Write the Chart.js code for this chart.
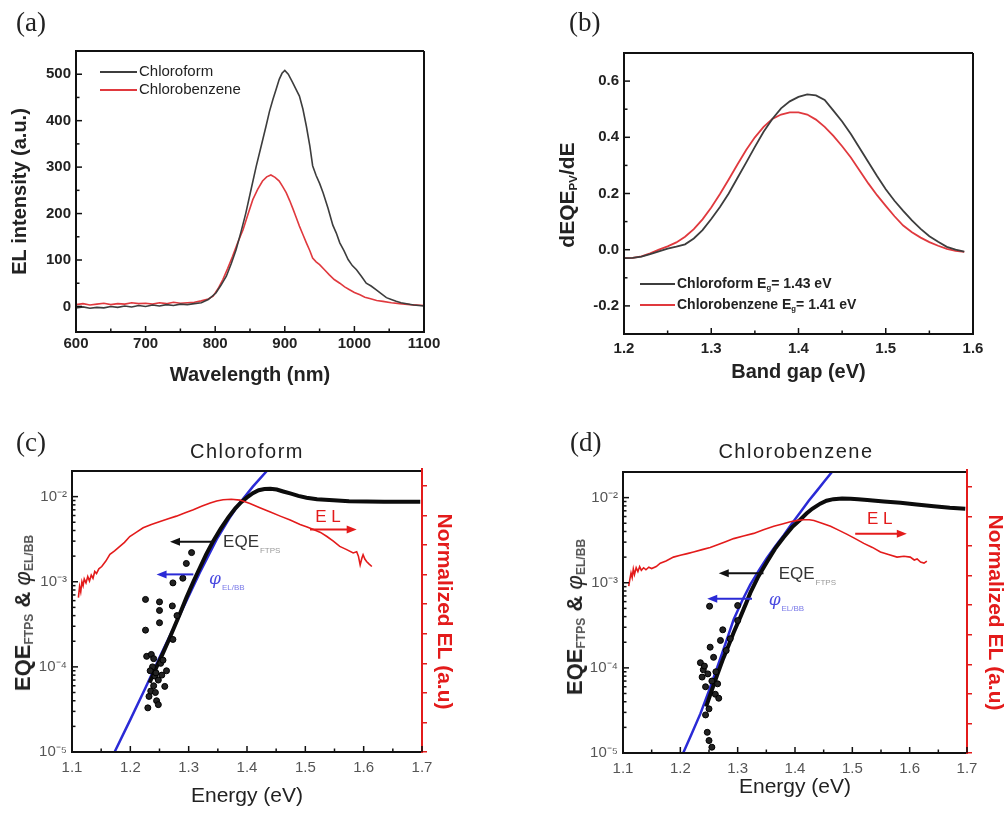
<!DOCTYPE html>
<html>
<head>
<meta charset="utf-8">
<script src="https://cdn.jsdelivr.net/npm/chart.js@4.4.1/dist/chart.umd.min.js"></script>
<style>
body{margin:0;width:1007px;height:815px;position:relative;overflow:hidden;background:#fff;font-family:"Liberation Sans",Arial,sans-serif;color:#222;}
.pane{position:absolute;}
.tag{position:absolute;font-family:"Liberation Serif","DejaVu Serif",serif;font-size:27px;line-height:1;color:#222;}
.head{position:absolute;font-size:20px;letter-spacing:1.5px;text-align:center;color:#222;}
.leg{position:absolute;white-space:nowrap;}
.leg div{height:18px;line-height:18px;}
.leg span{display:inline-block;vertical-align:middle;height:2px;margin-right:2px;}
.rot{position:absolute;transform:translate(-50%,-50%) rotate(-90deg);white-space:nowrap;}
sub{font-size:55%;vertical-align:-0.25em;}
</style>
</head>
<body>
<div class="pane" style="left:0;top:0"><canvas id="ca" width="450" height="400"></canvas></div>
<div class="pane" style="left:500px;top:0"><canvas id="cb" width="507" height="400"></canvas></div>
<div class="pane" style="left:0;top:420px"><canvas id="cc" width="500" height="395"></canvas></div>
<div class="pane" style="left:500px;top:420px"><canvas id="cd" width="507" height="395"></canvas></div>

<div class="tag" style="left:16px;top:9px">(a)</div>
<div class="tag" style="left:569px;top:9px">(b)</div>
<div class="tag" style="left:16px;top:429px">(c)</div>
<div class="tag" style="left:570px;top:429px">(d)</div>

<div class="head" style="left:147px;top:440px;width:200px">Chloroform</div>
<div class="head" style="left:676px;top:440px;width:240px">Chlorobenzene</div>

<div class="leg" style="left:100px;top:62px;font-size:15px">
  <div><span style="width:37px;background:#3d3d3d"></span>Chloroform</div>
  <div><span style="width:37px;background:#e0393e"></span>Chlorobenzene</div>
</div>
<div class="leg" style="left:640px;top:273px;font-size:14px;font-weight:bold">
  <div style="height:21px;line-height:21px"><span style="width:35px;background:#3d3d3d"></span>Chloroform E<sub>g</sub>= 1.43 eV</div>
  <div style="height:21px;line-height:21px"><span style="width:35px;background:#e0393e"></span>Chlorobenzene E<sub>g</sub>= 1.41 eV</div>
</div>

<div class="rot" style="left:567px;top:195px;font-size:21px;font-weight:bold">dEQE<sub>PV</sub>/dE</div>
<div class="rot" style="left:23px;top:613px;font-size:22px;font-weight:bold">EQE<sub style="color:#555">FTPS</sub> &amp; <i style="font-weight:normal">φ</i><sub style="color:#555">EL/BB</sub></div>
<div class="rot" style="left:575px;top:617px;font-size:22px;font-weight:bold">EQE<sub style="color:#555">FTPS</sub> &amp; <i style="font-weight:normal">φ</i><sub style="color:#555">EL/BB</sub></div>

<script>
// (a) EL spectra, [wavelength nm, intensity a.u.]
var chloroformEL = [[600,-3],[610,-1],[620,-4],[630,-2],[640,-3],[650,0],[660,-2],[670,1],[680,-1],[690,2],[700,0],[710,3],[720,1],[730,4],[740,2],[750,5],[760,4],[770,6],[780,8],[790,15],
  [801,29],[808,45],[816,65],[823,92],[830,122],[837,160],[844,201],[852,255],[859,302],[866,345],
  [873,388],[878,420],[883,446],[888,470],[892,489],[896,502],[900,508],[905,500],[911,483],[916,468],
  [921,453],[926,425],[931,388],[936,345],[940,303],[945,282],[950,265],[955,245],[962,212],[969,175],
  [974,158],[979,137],[985,120],[991,101],[997,88],[1003,79],[1010,65],[1017,50],[1024,44],[1031,36],
  [1038,28],[1046,19],[1053,15],[1060,11],[1067,8],[1075,6],[1085,3],[1100,1]];
var chlorobenzeneEL = [[600,4],[610,6],[620,3],[630,5],[640,7],[650,4],[660,6],[670,5],[680,8],[690,6],[700,7],[710,5],[720,8],[730,6],[740,9],[750,7],[760,8],[770,9],[780,12],[790,16],
  [797,22],[804,38],[811,58],[818,82],[825,108],[832,136],[840,165],[847,198],[854,230],[861,252],
  [868,270],[874,279],[880,283],[886,278],[892,270],[897,258],[902,245],[907,228],[912,209],[916,193],
  [921,173],[926,155],[931,137],[936,120],[940,104],[945,96],[950,90],[957,79],[964,68],[971,58],
  [979,50],[986,42],[993,36],[1000,30],[1008,25],[1015,20],[1022,17],[1032,13],[1041,11],[1053,8],[1065,6],[1080,4],[1100,2]];
var wavelengthTicks = [600,700,800,900,1000,1100];
var intensityTicks = [0,100,200,300,400,500];

// (b) dEQE/dE, [band gap eV, value]
var chloroformDeriv = [[1.20,-0.03],[1.21,-0.029],[1.22,-0.025],[1.23,-0.016],[1.24,-0.006],[1.25,0.004],[1.26,0.011],[1.27,0.019],[1.28,0.04],[1.29,0.07],
  [1.30,0.109],[1.31,0.152],[1.32,0.2],[1.33,0.255],[1.34,0.31],[1.35,0.366],[1.36,0.42],[1.37,0.465],[1.38,0.503],[1.39,0.528],
  [1.40,0.544],[1.41,0.553],[1.42,0.549],[1.43,0.533],[1.44,0.495],[1.45,0.456],[1.46,0.412],[1.47,0.362],[1.48,0.312],[1.49,0.262],
  [1.50,0.215],[1.51,0.174],[1.52,0.138],[1.53,0.104],[1.54,0.074],[1.55,0.048],[1.56,0.028],[1.57,0.01],[1.58,0.0],[1.59,-0.007]];
var chlorobenzeneDeriv = [[1.20,-0.03],[1.21,-0.029],[1.22,-0.024],[1.23,-0.013],[1.24,0.0],[1.25,0.012],[1.26,0.026],[1.27,0.046],[1.28,0.073],[1.29,0.108],
  [1.30,0.15],[1.31,0.198],[1.32,0.25],[1.33,0.303],[1.34,0.355],[1.35,0.4],[1.36,0.437],[1.37,0.465],[1.38,0.481],[1.39,0.489],
  [1.40,0.489],[1.41,0.481],[1.42,0.463],[1.43,0.437],[1.44,0.405],[1.45,0.368],[1.46,0.328],[1.47,0.282],[1.48,0.236],[1.49,0.194],
  [1.50,0.156],[1.51,0.119],[1.52,0.086],[1.53,0.062],[1.54,0.043],[1.55,0.027],[1.56,0.014],[1.57,0.003],[1.58,-0.004],[1.59,-0.008]];
var bandGapTicks = [1.2,1.3,1.4,1.5,1.6];
var derivTicks = [-0.2,0.0,0.2,0.4,0.6];

// (c) chloroform, [energy eV, value]
var eqeC = [[1.233,6.5e-5],[1.245,1.0e-4],[1.255,1.4e-4],[1.265,2.0e-4],[1.275,2.9e-4],[1.285,4.2e-4],[1.296,6.5e-4],[1.308,1.0e-3],[1.319,1.45e-3],[1.33,2.1e-3],
  [1.342,3.0e-3],[1.355,4.2e-3],[1.368,5.7e-3],[1.38,7.3e-3],[1.39,8.6e-3],[1.4,9.8e-3],[1.41,1.1e-2],[1.42,1.19e-2],[1.43,1.23e-2],[1.44,1.24e-2],
  [1.451,1.21e-2],[1.462,1.15e-2],[1.474,1.09e-2],[1.488,1.02e-2],[1.502,9.7e-3],[1.52,9.3e-3],[1.548,9.05e-3],[1.575,8.85e-3],[1.605,8.75e-3],[1.635,8.7e-3],[1.663,8.7e-3],[1.697,8.7e-3]];
var eqeScatterC = [[1.226,6.2e-4],[1.226,2.7e-4],[1.228,1.33e-4],[1.23,3.3e-5],[1.232,4.5e-5],[1.236,1.4e-4],[1.238,1.0e-4],[1.24,6.0e-5],[1.242,7.8e-5],[1.245,4.0e-5],
  [1.248,3.6e-5],[1.25,5.8e-4],[1.25,4.6e-4],[1.25,3.3e-4],[1.252,1.1e-4],[1.256,1.2e-4],[1.259,5.9e-5],[1.262,9.0e-5],[1.272,5.2e-4],[1.273,9.7e-4],
  [1.273,2.1e-4],[1.28,4.0e-4],[1.296,1.64e-3],[1.305,2.2e-3],[1.29,1.1e-3],[1.234,9e-5],[1.24,1.25e-4],[1.244,8.5e-5],[1.248,7e-5],[1.254,8e-5],[1.235,5.2e-5],[1.243,5e-5]];
var phiC = [[1.173,1e-5],[1.20,2.4e-5],[1.225,5.5e-5],[1.251,1.33e-4],[1.285,4.1e-4],[1.319,1.28e-3],[1.348,3.15e-3],[1.37,5.6e-3],[1.388,8.5e-3],[1.41,1.31e-2],[1.434,2.0e-2],[1.44,2.2e-2]];
var elC = [[1.111,6.5e-4],[1.113,8.8e-4],[1.115,7.6e-4],[1.117,1.0e-3],[1.119,9.0e-4],[1.121,1.08e-3],[1.124,9.7e-4],[1.127,1.15e-3],[1.13,1.02e-3],[1.133,1.2e-3],
  [1.136,1.1e-3],[1.139,1.32e-3],[1.142,1.25e-3],[1.146,1.42e-3],[1.151,1.51e-3],[1.158,1.75e-3],[1.165,2.1e-3],[1.173,2.3e-3],[1.182,2.6e-3],[1.19,2.9e-3],
  [1.199,3.4e-3],[1.21,3.8e-3],[1.222,4.3e-3],[1.236,4.7e-3],[1.251,5.1e-3],[1.265,5.5e-3],[1.279,5.9e-3],[1.293,6.4e-3],[1.308,7.0e-3],[1.322,7.7e-3],
  [1.337,8.4e-3],[1.348,8.9e-3],[1.359,9.2e-3],[1.373,9.3e-3],[1.388,9.1e-3],[1.405,8.3e-3],[1.422,7.4e-3],[1.44,6.6e-3],[1.457,5.9e-3],[1.474,5.3e-3],
  [1.491,4.7e-3],[1.503,4.4e-3],[1.514,4.1e-3],[1.526,3.8e-3],[1.537,3.4e-3],[1.548,3.0e-3],[1.559,2.6e-3],[1.57,2.4e-3],[1.582,2.18e-3],[1.588,2.25e-3],
  [1.591,2.0e-3],[1.594,1.58e-3],[1.597,1.9e-3],[1.599,2.08e-3],[1.602,1.85e-3],[1.605,1.73e-3],[1.609,1.62e-3],[1.614,1.51e-3]];

// (d) chlorobenzene
var eqeD = [[1.245,3.5e-5],[1.255,5.5e-5],[1.265,8.5e-5],[1.275,1.3e-4],[1.285,1.9e-4],[1.293,2.6e-4],[1.305,4.0e-4],[1.315,5.8e-4],[1.322,7.6e-4],[1.335,1.15e-3],
  [1.351,1.75e-3],[1.365,2.5e-3],[1.38,3.4e-3],[1.395,4.5e-3],[1.409,5.5e-3],[1.42,6.5e-3],[1.43,7.4e-3],[1.444,8.5e-3],[1.455,9.2e-3],[1.467,9.6e-3],
  [1.482,9.75e-3],[1.497,9.7e-3],[1.51,9.55e-3],[1.526,9.4e-3],[1.555,9.0e-3],[1.584,8.7e-3],[1.612,8.3e-3],[1.642,7.9e-3],[1.67,7.6e-3],[1.697,7.4e-3]];
var eqeScatterD = [[1.251,5.3e-4],[1.274,2.8e-4],[1.3,5.4e-4],[1.3,3.6e-4],[1.252,1.75e-4],[1.235,1.15e-4],[1.238,7.8e-5],[1.244,6e-5],[1.247,1.75e-5],[1.25,1.4e-5],
  [1.255,1.17e-5],[1.258,1.33e-4],[1.27,2.1e-4],[1.261,4.9e-5],[1.244,2.8e-5],[1.267,4.4e-5],[1.24,9.5e-5],[1.248,8.5e-5],[1.242,1.05e-4],[1.255,7e-5],
  [1.262,9e-5],[1.28,1.6e-4],[1.287,2.2e-4],[1.25,3.3e-5],[1.265,6.5e-5]];
var phiD = [[1.205,1e-5],[1.22,1.7e-5],[1.235,2.9e-5],[1.25,5.4e-5],[1.264,1.0e-4],[1.279,1.95e-4],[1.293,3.7e-4],[1.308,6.2e-4],[1.322,9.5e-4],[1.337,1.4e-3],
  [1.351,1.95e-3],[1.366,2.7e-3],[1.38,3.6e-3],[1.395,5.0e-3],[1.409,6.7e-3],[1.424,9.2e-3],[1.438,1.2e-2],[1.452,1.58e-2],[1.466,2.06e-2],[1.47,2.2e-2]];
var elD = [[1.11,9.1e-4],[1.112,1.1e-3],[1.114,1.3e-3],[1.116,1.15e-3],[1.118,1.45e-3],[1.12,1.25e-3],[1.123,1.5e-3],[1.126,1.35e-3],[1.129,1.55e-3],[1.132,1.4e-3],
  [1.136,1.5e-3],[1.14,1.42e-3],[1.145,1.52e-3],[1.15,1.47e-3],[1.158,1.55e-3],[1.165,1.7e-3],[1.175,1.8e-3],[1.188,2.0e-3],[1.2,2.1e-3],[1.212,2.2e-3],
  [1.223,2.3e-3],[1.238,2.45e-3],[1.252,2.6e-3],[1.265,2.8e-3],[1.28,3.05e-3],[1.293,3.3e-3],[1.31,3.55e-3],[1.328,3.8e-3],[1.345,4.2e-3],[1.363,4.6e-3],
  [1.378,4.9e-3],[1.392,5.2e-3],[1.405,5.4e-3],[1.415,5.5e-3],[1.425,5.5e-3],[1.433,5.4e-3],[1.447,5.0e-3],[1.462,4.6e-3],[1.476,4.15e-3],[1.491,3.7e-3],
  [1.505,3.3e-3],[1.52,2.9e-3],[1.535,2.6e-3],[1.549,2.3e-3],[1.563,2.15e-3],[1.578,2.0e-3],[1.59,2.05e-3],[1.601,2.0e-3],[1.608,1.85e-3],[1.613,1.9e-3],
  [1.619,1.75e-3],[1.625,1.7e-3],[1.63,1.8e-3]];

var energyTicks = [1.1,1.2,1.3,1.4,1.5,1.6,1.7];
var decadeTicks = [1e-5,1e-4,1e-3,1e-2];
var normElTicks = [0,0.1,0.2,0.3,0.4,0.5,0.6,0.7,0.8,0.9];

var SANS = '"Liberation Sans", Arial, sans-serif';
var GRAY = '#3d3d3d', RED = '#e0393e', BLUE = '#2a2ad6', ELRED = '#e31b1b';

function pts(arr){ return arr.map(function(p){ return {x:p[0], y:p[1]}; }); }
function fixTicks(list){ return function(s){ s.ticks = list.map(function(v){ return {value:v}; }); }; }
function sup(v){
  var map = {'-':'⁻','0':'⁰','1':'¹','2':'²','3':'³','4':'⁴','5':'⁵','6':'⁶','7':'⁷','8':'⁸','9':'⁹'};
  var e = String(Math.round(Math.log10(v)));
  return '10' + e.split('').map(function(c){ return map[c]; }).join('');
}

// box round the plot + inward tick marks
var framePlugin = {
  id: 'frame',
  afterDraw: function(chart, args, o){
    var ctx = chart.ctx, a = chart.chartArea;
    ctx.save();
    ctx.lineWidth = 2;
    ctx.strokeStyle = '#111';
    ctx.beginPath();
    ctx.moveTo(a.right, a.top); ctx.lineTo(a.left, a.top); ctx.lineTo(a.left, a.bottom); ctx.lineTo(a.right, a.bottom);
    ctx.stroke();
    ctx.strokeStyle = o.rightColor || '#111';
    ctx.beginPath();
    ctx.moveTo(a.right, a.top - (o.rightOver || 0)); ctx.lineTo(a.right, a.bottom + 1);
    ctx.stroke();
    ctx.strokeStyle = '#111';
    ctx.lineWidth = 1.5;
    (o.axes || []).forEach(function(id){
      var s = chart.scales[id];
      var major = s.ticks.map(function(t){ return t.value; });
      var minor = [];
      if (s.type === 'logarithmic') {
        major.forEach(function(v){ for (var k = 2; k < 10; k++) if (v * k <= s.max) minor.push(v * k); });
      } else {
        for (var i = 0; i < major.length - 1; i++) minor.push((major[i] + major[i+1]) / 2);
      }
      var mark = function(v, len){
        var p = s.getPixelForValue(v);
        ctx.beginPath();
        if (s.isHorizontal()) { ctx.moveTo(p, a.bottom); ctx.lineTo(p, a.bottom - len); }
        else { ctx.moveTo(a.left, p); ctx.lineTo(a.left + len, p); }
        ctx.stroke();
      };
      major.forEach(function(v){ mark(v, 6); });
      minor.forEach(function(v){ mark(v, 3.5); });
    });
    ctx.restore();
  }
};

// arrows and their labels in (c), (d)
var notePlugin = {
  id: 'notes',
  afterDatasetsDraw: function(chart, args, o){
    var ctx = chart.ctx, sx = chart.scales.x, sy = chart.scales.y;
    ctx.save();
    (o.arrows || []).forEach(function(n){
      var x0 = sx.getPixelForValue(n.from), x1 = sx.getPixelForValue(n.to), y = sy.getPixelForValue(n.at);
      var d = x1 > x0 ? 1 : -1;
      ctx.strokeStyle = n.color; ctx.fillStyle = n.color; ctx.lineWidth = 2;
      ctx.beginPath(); ctx.moveTo(x0, y); ctx.lineTo(x1 - d * 6, y); ctx.stroke();
      ctx.beginPath(); ctx.moveTo(x1, y); ctx.lineTo(x1 - d * 10, y - 4); ctx.lineTo(x1 - d * 10, y + 4); ctx.closePath(); ctx.fill();
    });
    (o.labels || []).forEach(function(l){
      var x = sx.getPixelForValue(l.x), y = sy.getPixelForValue(l.y);
      ctx.textBaseline = 'middle'; ctx.textAlign = 'left';
      ctx.font = l.font; ctx.fillStyle = l.color;
      ctx.fillText(l.text, x, y);
      if (l.sub) {
        var w = ctx.measureText(l.text).width;
        ctx.font = '8px ' + SANS; ctx.fillStyle = l.subColor;
        ctx.fillText(l.sub, x + w + 1, y + 8);
      }
    });
    ctx.restore();
  }
};

var boldTick = {family: SANS, size: 15, weight: 'bold'};
var boldTitle = {family: SANS, size: 20, weight: 'bold'};
var lightTick = {family: SANS, size: 15};

function lineSet(arr, color, width){
  return {data: pts(arr), showLine: true, borderColor: color, borderWidth: width, pointRadius: 0, tension: 0};
}

// (a)
new Chart(document.getElementById('ca'), {
  type: 'scatter',
  data: {datasets: [lineSet(chloroformEL, GRAY, 1.6), lineSet(chlorobenzeneEL, RED, 1.6)]},
  options: {
    responsive: false, animation: false, devicePixelRatio: 1,
    layout: {padding: {left: 0, right: 26, top: 51, bottom: 0}},
    plugins: {legend: {display: false}, tooltip: {enabled: false}, frame: {axes: ['x', 'y']}},
    scales: {
      x: {type: 'linear', min: 600, max: 1100, afterBuildTicks: fixTicks(wavelengthTicks),
        grid: {display: false, drawTicks: false}, border: {display: false},
        ticks: {font: boldTick, color: '#222', padding: 3, callback: function(v){ return String(v); }},
        title: {display: true, text: 'Wavelength (nm)', font: boldTitle, color: '#222', padding: {top: 0, bottom: 13}},
        afterFit: function(s){ s.height = 68; }},
      y: {type: 'linear', min: -55, max: 550, afterBuildTicks: fixTicks(intensityTicks),
        grid: {display: false, drawTicks: false}, border: {display: false},
        ticks: {font: boldTick, color: '#222', padding: 5, callback: function(v){ return String(v); }},
        title: {display: true, text: 'EL intensity (a.u.)', font: boldTitle, color: '#222', padding: {top: 8, bottom: 0}},
        afterFit: function(s){ s.width = 76; }}
    }
  },
  plugins: [framePlugin]
});

// (b)
new Chart(document.getElementById('cb'), {
  type: 'scatter',
  data: {datasets: [lineSet(chloroformDeriv, GRAY, 1.8), lineSet(chlorobenzeneDeriv, RED, 1.8)]},
  options: {
    responsive: false, animation: false, devicePixelRatio: 1,
    layout: {padding: {left: 0, right: 34, top: 53, bottom: 0}},
    plugins: {legend: {display: false}, tooltip: {enabled: false}, frame: {axes: ['x', 'y']}},
    scales: {
      x: {type: 'linear', min: 1.2, max: 1.6, afterBuildTicks: fixTicks(bandGapTicks),
        grid: {display: false, drawTicks: false}, border: {display: false},
        ticks: {font: boldTick, color: '#222', padding: 6, callback: function(v){ return v.toFixed(1); }},
        title: {display: true, text: 'Band gap (eV)', font: boldTitle, color: '#222', padding: {top: 0, bottom: 16}},
        afterFit: function(s){ s.height = 66; }},
      y: {type: 'linear', min: -0.3, max: 0.7, afterBuildTicks: fixTicks(derivTicks),
        grid: {display: false, drawTicks: false}, border: {display: false},
        ticks: {font: boldTick, color: '#222', padding: 5, callback: function(v){ return v.toFixed(1); }},
        afterFit: function(s){ s.width = 124; }}
    }
  },
  plugins: [framePlugin]
});

function energyChart(id, d){
  return new Chart(document.getElementById(id), {
    type: 'scatter',
    data: {datasets: [
      lineSet(d.el, ELRED, 1.6),
      {data: pts(d.scatter), showLine: false, pointRadius: 3, pointBackgroundColor: '#222', pointBorderColor: '#000', pointBorderWidth: 1},
      lineSet(d.eqe, '#0c0c0c', 4),
      lineSet(d.phi, BLUE, 2.5)
    ]},
    options: {
      responsive: false, animation: false, devicePixelRatio: 1,
      layout: {padding: {left: 0, right: d.padRight, top: d.padTop, bottom: 0}},
      plugins: {legend: {display: false}, tooltip: {enabled: false},
        frame: {axes: ['x', 'y'], rightColor: ELRED, rightOver: 3},
        notes: {arrows: d.arrows, labels: d.labels}},
      scales: {
        x: {type: 'linear', min: 1.1, max: 1.7, afterBuildTicks: fixTicks(energyTicks),
          grid: {display: false, drawTicks: false}, border: {display: false},
          ticks: {font: lightTick, color: '#555', padding: 7, callback: function(v){ return v.toFixed(1); }},
          title: {display: true, text: 'Energy (eV)', font: {family: SANS, size: 21}, color: '#222', padding: {top: 0, bottom: d.xTitlePad}},
          afterFit: function(s){ s.height = d.xHeight; }},
        y: {type: 'logarithmic', min: 1e-5, max: 2e-2, afterBuildTicks: fixTicks(decadeTicks),
          grid: {display: false, drawTicks: false}, border: {display: false},
          ticks: {font: lightTick, color: '#555', padding: 5, callback: function(v){ return sup(v); }},
          afterFit: function(s){ s.width = d.yWidth; }},
        y2: {type: 'linear', position: 'right', min: 0, max: 0.95, afterBuildTicks: fixTicks(normElTicks),
          grid: {display: true, drawOnChartArea: false, drawTicks: true, tickLength: 5, color: ELRED, lineWidth: 1.5},
          border: {display: false},
          ticks: {display: false},
          title: {display: true, text: 'Normalized EL (a.u)', font: {family: SANS, size: 21, weight: 'bold'}, color: ELRED, padding: {top: d.rTitlePad, bottom: 0}},
          afterFit: function(s){ s.width = d.rWidth; }}
      }
    },
    plugins: [notePlugin, framePlugin]
  });
}

var eqeFont = '17px ' + SANS, phiFont = 'italic 17px "DejaVu Serif", serif', elFont = '17px ' + SANS;

energyChart('cc', {
  el: elC, scatter: eqeScatterC, eqe: eqeC, phi: phiC,
  padRight: 40, padTop: 51, xHeight: 63, xTitlePad: 6, yWidth: 72, rWidth: 38, rTitlePad: 4,
  arrows: [
    {from: 1.342, to: 1.268, at: 2.95e-3, color: '#111'},
    {from: 1.308, to: 1.245, at: 1.22e-3, color: BLUE},
    {from: 1.508, to: 1.588, at: 4.1e-3, color: ELRED}
  ],
  labels: [
    {x: 1.359, y: 2.9e-3, text: 'EQE', sub: 'FTPS', font: eqeFont, color: '#333', subColor: '#999'},
    {x: 1.335, y: 1.06e-3, text: 'φ', sub: 'EL/BB', font: phiFont, color: '#4a4ae0', subColor: '#7a7ae8'},
    {x: 1.517, y: 5.7e-3, text: 'E L', font: elFont, color: ELRED}
  ]
});

energyChart('cd', {
  el: elD, scatter: eqeScatterD, eqe: eqeD, phi: phiD,
  padRight: 0, padTop: 52, xHeight: 62, xTitlePad: 15, yWidth: 123, rWidth: 40, rTitlePad: 0,
  arrows: [
    {from: 1.345, to: 1.267, at: 1.29e-3, color: '#111'},
    {from: 1.325, to: 1.247, at: 6.5e-4, color: BLUE},
    {from: 1.505, to: 1.595, at: 3.77e-3, color: ELRED}
  ],
  labels: [
    {x: 1.3715, y: 1.25e-3, text: 'EQE', sub: 'FTPS', font: eqeFont, color: '#333', subColor: '#999'},
    {x: 1.354, y: 6.1e-4, text: 'φ', sub: 'EL/BB', font: phiFont, color: '#4a4ae0', subColor: '#7a7ae8'},
    {x: 1.5256, y: 5.6e-3, text: 'E L', font: elFont, color: ELRED}
  ]
});
</script>
</body>
</html>
